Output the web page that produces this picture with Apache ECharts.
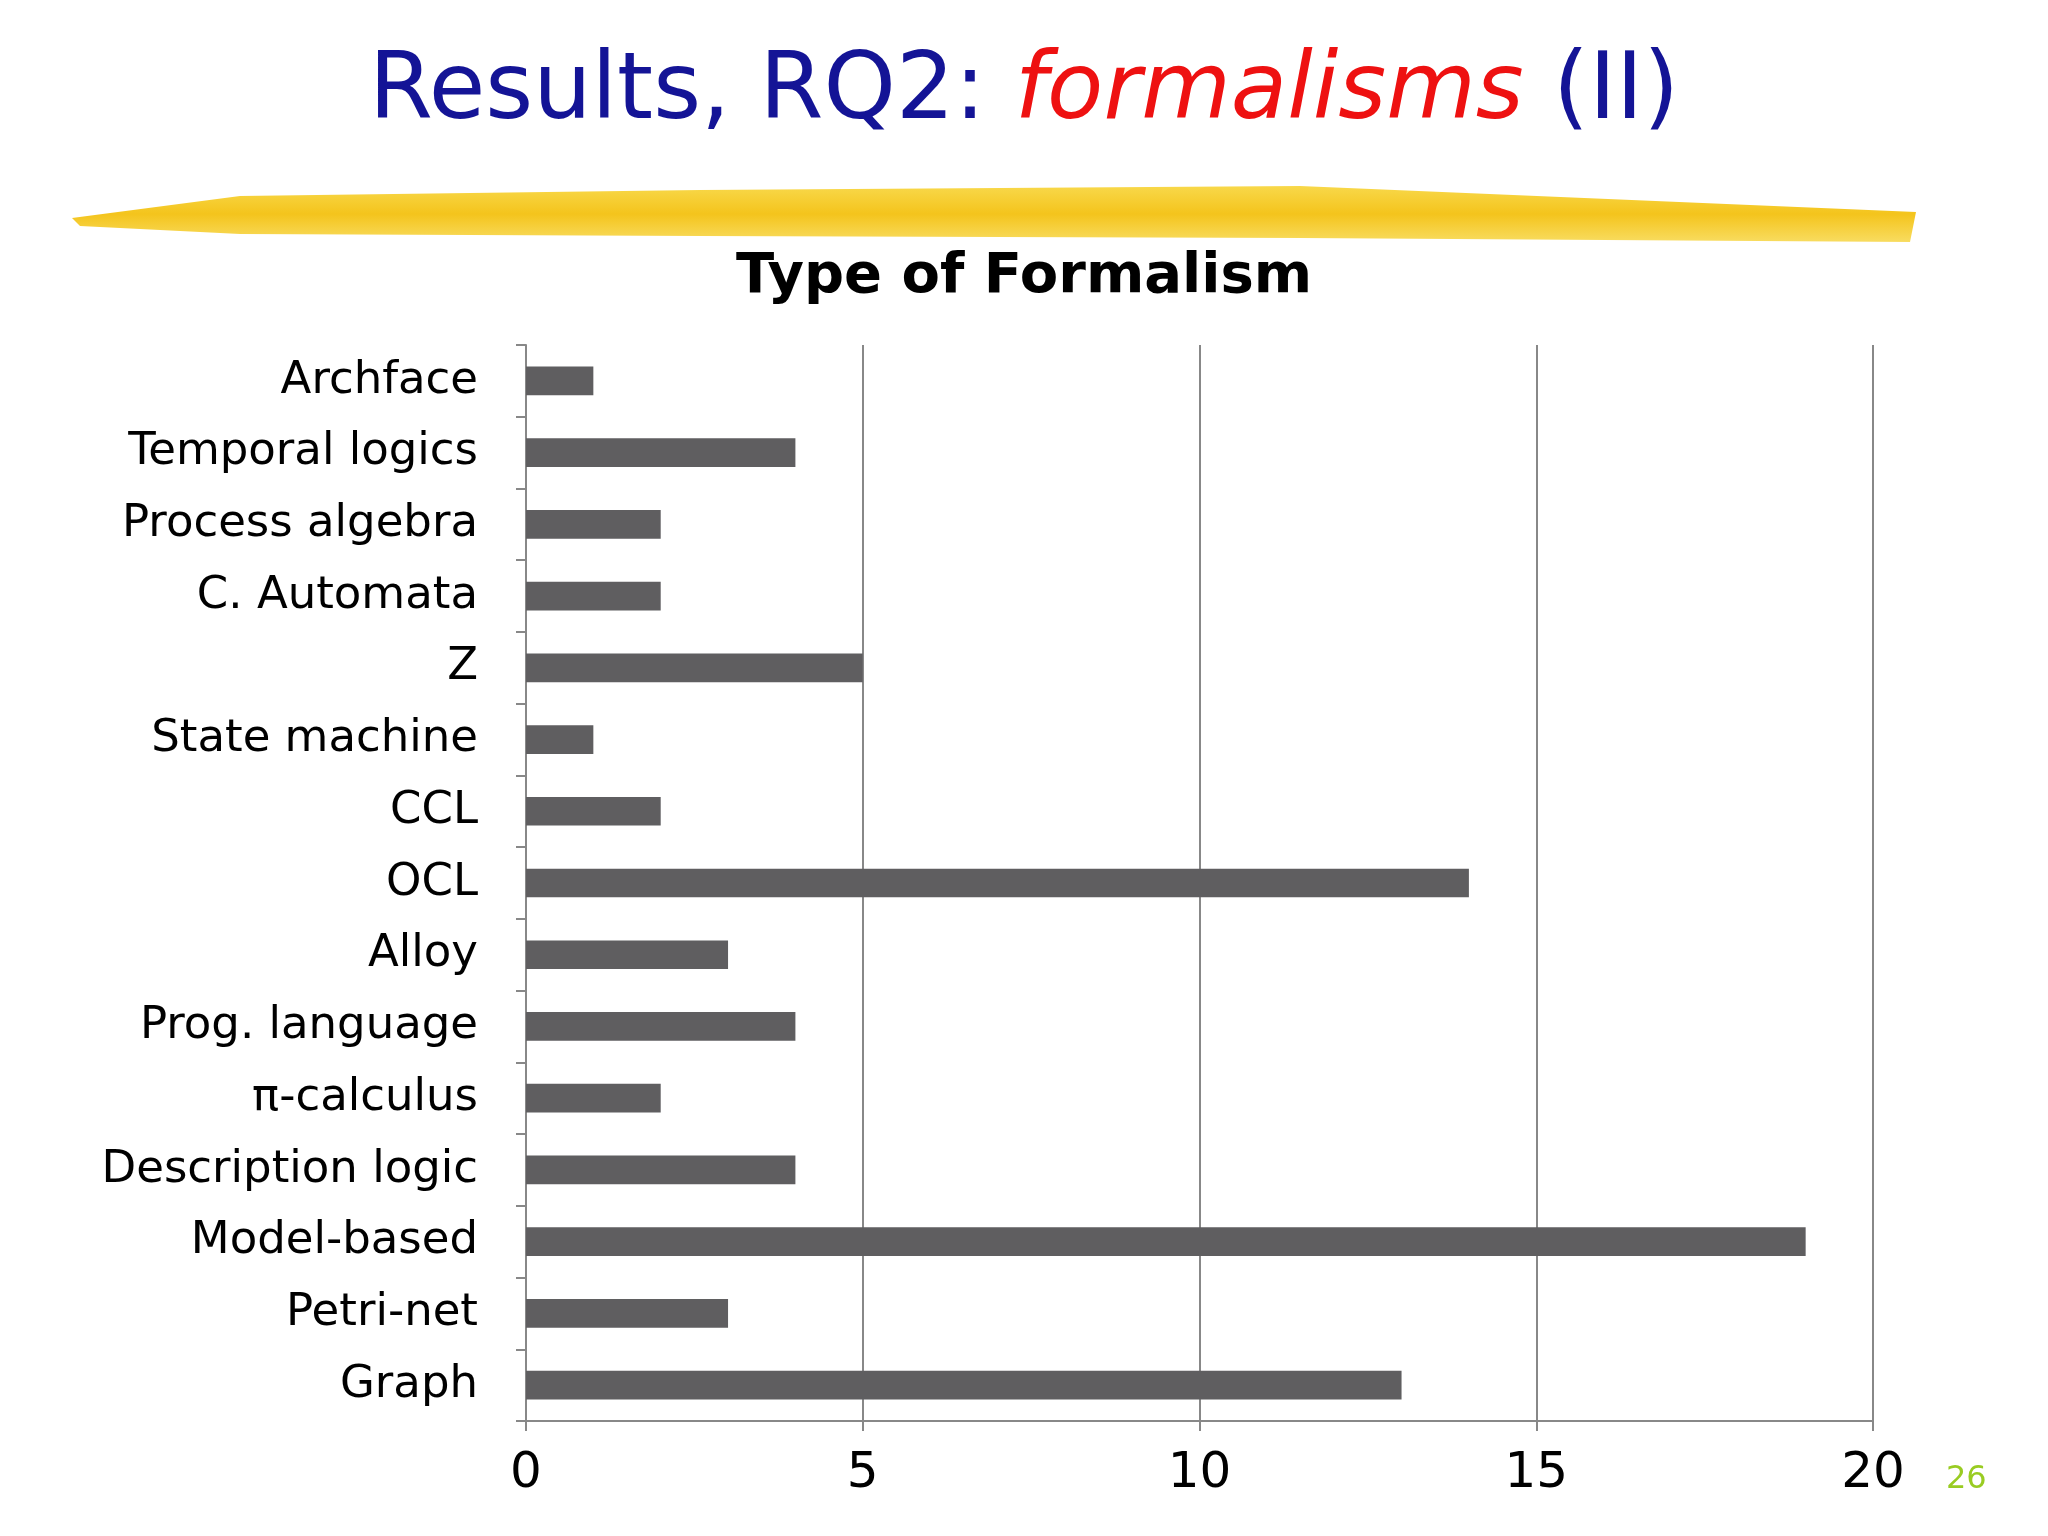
<!DOCTYPE html>
<html>
<head>
<meta charset="utf-8">
<script src="https://cdn.jsdelivr.net/npm/echarts@6/dist/echarts.min.js"></script>
<style>
  html, body { margin: 0; padding: 0; background: #fff; }
  #chart { width: 2048px; height: 1536px; }
</style>
</head>
<body>
<div id="chart"></div>
<script>
// categories listed bottom to top
let categories = ["Graph", "Petri-net", "Model-based", "Description logic", "π-calculus",
  "Prog. language", "Alloy", "OCL", "CCL", "State machine", "Z", "C. Automata",
  "Process algebra", "Temporal logics", "Archface"];
let counts = [13, 3, 19, 4, 2, 4, 3, 14, 2, 1, 5, 2, 2, 4, 1];
let xTicks = [0, 5, 10, 15, 20];

let myChart = echarts.init(document.getElementById("chart"));
let option = {
  backgroundColor: "#fff",
  animation: false,
  title: {
    text: "Type of Formalism",
    left: "center",
    top: 244,
    textStyle: { fontFamily: "DejaVu Sans", fontWeight: "bold", fontSize: 56, color: "#000" },
  },
  graphic: [
    {
      type: "text",
      left: "center",
      top: 48,
      style: {
        rich: {
          a: { fontFamily: "DejaVu Sans", fontSize: 92, fill: "#141496" },
          b: { fontFamily: "DejaVu Sans", fontSize: 92, fill: "#ee1111", fontStyle: "italic" },
        },
        text: "{a|Results, RQ2: }{b|formalisms}{a| (II)}",
      },
    },
    {
      type: "polygon",
      shape: {
        points: [[72, 218], [240, 196], [700, 190], [1300, 186], [1916, 212],
          [1910, 242], [1300, 238], [700, 236], [240, 234], [80, 226]],
      },
      style: {
        fill: new echarts.graphic.LinearGradient(0, 0, 0, 1, [
          { offset: 0, color: "#f8d84a" },
          { offset: 0.5, color: "#f4c41c" },
          { offset: 1, color: "#f8dc60" },
        ]),
      },
    },
    {
      type: "text",
      left: 1946,
      top: 1464,
      style: { text: "26", fontFamily: "DejaVu Sans", fontSize: 32, fill: "#99cc22" },
    },
  ],
  grid: { left: 526, right: 175, top: 345, bottom: 115 },
  xAxis: {
    type: "value",
    min: 0,
    max: 20,
    interval: 5,
    axisLine: { show: true, lineStyle: { color: "#888", width: 2 } },
    axisTick: { show: true, length: 10, lineStyle: { color: "#888", width: 2 } },
    splitLine: { show: true, lineStyle: { color: "#888", width: 2 } },
    axisLabel: {
      margin: 28,
      fontFamily: "DejaVu Sans",
      fontSize: 50,
      color: "#000",
      formatter: (v) => (xTicks.includes(v) ? String(v) : ""),
    },
  },
  yAxis: {
    type: "category",
    data: categories,
    axisLine: { show: true, lineStyle: { color: "#888", width: 2 } },
    axisTick: { show: true, length: 10, lineStyle: { color: "#888", width: 2 } },
    axisLabel: { margin: 48, fontFamily: "DejaVu Sans", fontSize: 45, color: "#000" },
  },
  series: [
    {
      type: "bar",
      data: counts,
      barWidth: "40%",
      itemStyle: { color: "#5f5e60" },
    },
  ],
};
myChart.setOption(option);
</script>
</body>
</html>
